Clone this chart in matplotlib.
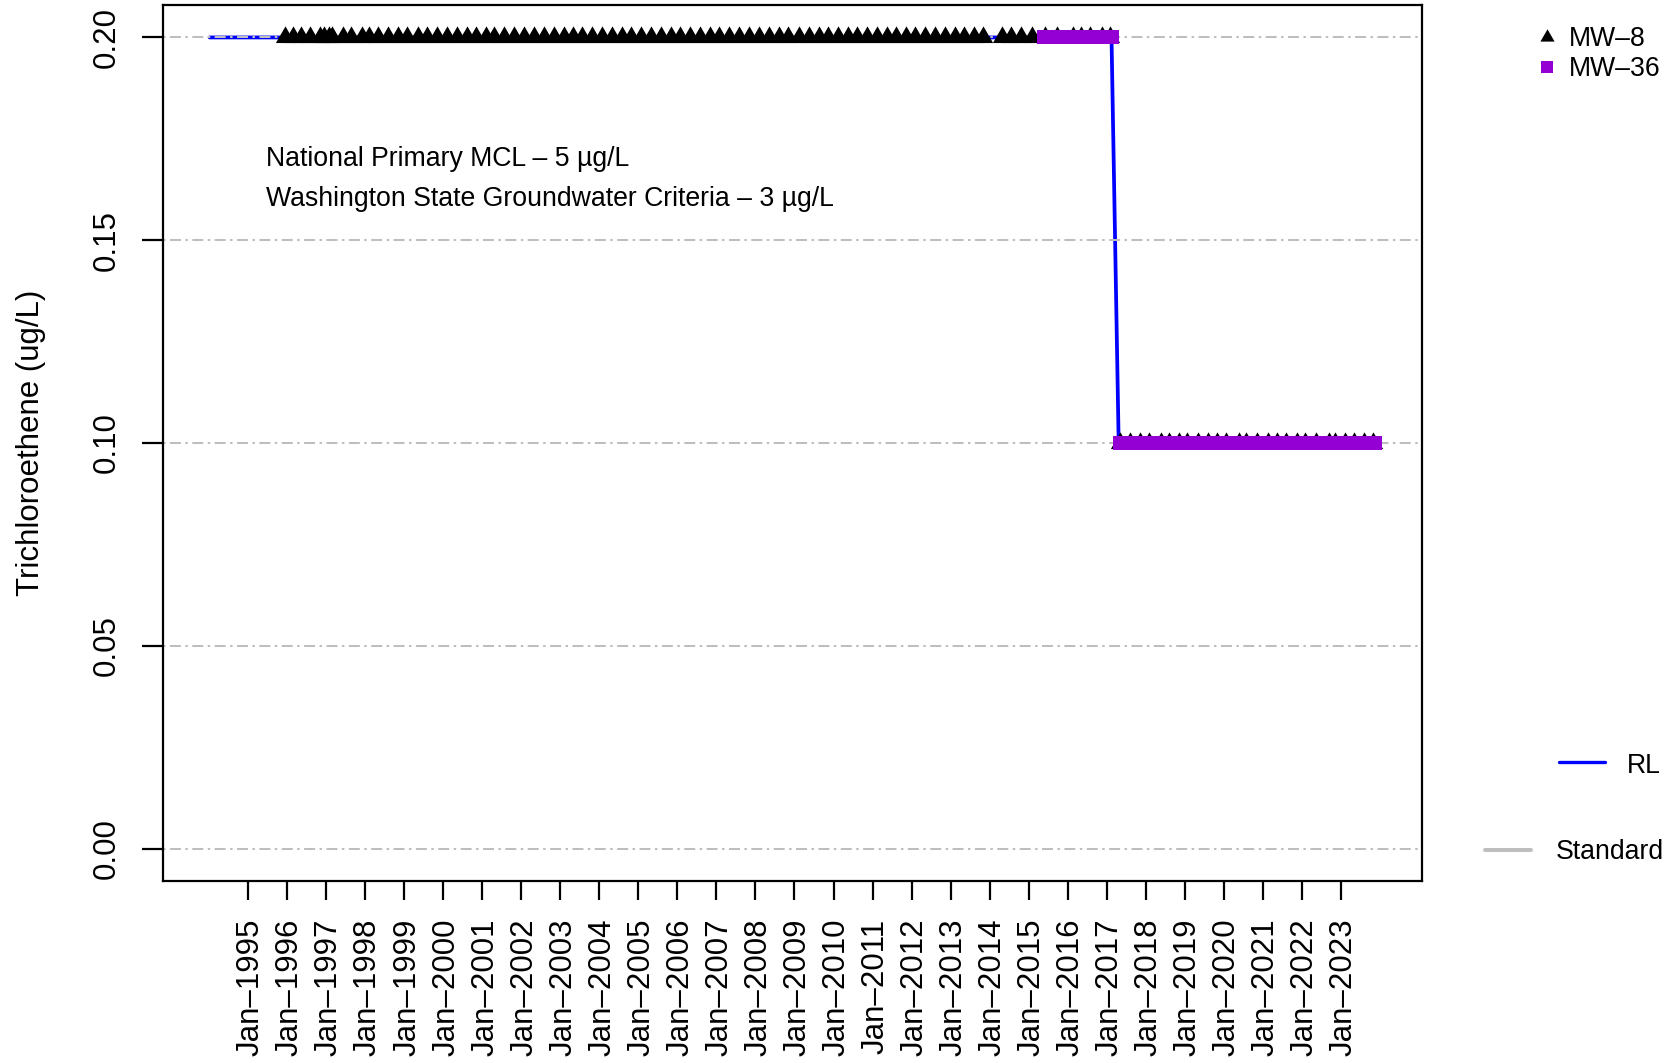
import matplotlib
matplotlib.use("Agg")
import matplotlib.pyplot as plt
import matplotlib.dates as mdates
from matplotlib.path import Path
from matplotlib.lines import Line2D
from matplotlib.transforms import ScaledTranslation
import pandas as pd

plt.rcParams["font.family"] = ["Liberation Sans", "DejaVu Sans"]
plt.rcParams["lines.scale_dashes"] = False

# ---------------------------------------------------------------- data
# MW-8 sample dates (non-detects plotted at the reporting limit)
mw8_dates_rl020 = [
    "1995-12-10",
    "1996-03-01", "1996-05-10", "1996-08-01", "1996-11-10", "1996-12-15",
    "1997-01-25", "1997-03-01", "1997-06-05", "1997-08-20", "1997-12-01",
    "1998-02-10", "1998-05-05", "1998-08-01", "1998-11-01",
    "1999-02-01", "1999-05-08", "1999-08-08", "1999-11-10",
    "2000-02-08", "2000-05-08", "2000-08-10", "2000-11-03",
    "2001-02-03", "2001-04-25", "2001-07-25", "2001-10-28",
    "2002-01-28", "2002-05-01", "2002-08-05", "2002-11-03",
    "2003-02-05", "2003-05-01", "2003-07-28", "2003-10-28",
    "2004-01-30", "2004-04-28", "2004-07-28", "2004-10-28",
    "2005-01-30", "2005-04-25", "2005-07-28", "2005-10-30",
    "2006-01-22", "2006-04-25", "2006-07-30", "2006-10-30",
    "2007-01-30", "2007-05-01", "2007-08-03", "2007-11-05",
    "2008-02-05", "2008-05-08", "2008-08-10", "2008-11-05",
    "2009-02-10", "2009-05-15", "2009-08-15", "2009-11-15",
    "2010-02-15", "2010-05-12", "2010-08-10", "2010-11-10",
    "2011-02-10", "2011-05-15", "2011-08-08", "2011-11-10",
    "2012-02-03", "2012-05-08", "2012-08-08", "2012-11-10",
    "2013-02-10", "2013-05-08", "2013-08-10", "2013-11-03",
    "2014-04-25", "2014-07-20", "2014-10-20",
    "2015-01-30", "2015-06-03", "2015-09-20",
    "2016-02-20", "2016-05-05", "2016-07-25", "2016-11-20",
    "2017-01-30",
]
mw8_dates_rl010 = [
    "2017-05-01", "2017-08-05", "2017-11-10",
    "2018-01-30", "2018-05-20", "2018-08-08", "2018-11-07",
    "2019-01-22", "2019-05-05", "2019-08-10", "2019-10-28",
    "2020-01-22", "2020-05-20", "2020-07-30", "2020-11-10",
    "2021-02-20", "2021-05-15", "2021-08-08", "2021-11-15",
    "2022-01-30", "2022-05-08", "2022-09-10", "2022-11-07",
    "2023-02-10", "2023-05-01", "2023-08-05", "2023-10-30",
]

# MW-36 sample dates
mw36_dates_rl020 = [
    "2015-05-27", "2015-08-20", "2015-11-15",
    "2016-02-15", "2016-05-15", "2016-08-15", "2016-11-15",
    "2017-02-17",
]
mw36_dates_rl010 = [
    "2017-04-30", "2017-08-10", "2017-11-10",
    "2018-02-10", "2018-05-10", "2018-08-10", "2018-11-10",
    "2019-02-10", "2019-05-10", "2019-08-10", "2019-11-10",
    "2020-02-10", "2020-05-10", "2020-08-10", "2020-11-10",
    "2021-02-10", "2021-05-10", "2021-08-10", "2021-11-10",
    "2022-02-10", "2022-05-10", "2022-08-10", "2022-11-10",
    "2023-02-10", "2023-05-10", "2023-08-10", "2023-11-15",
]

mw8_values = [0.20] * len(mw8_dates_rl020) + [0.10] * len(mw8_dates_rl010)
mw36_values = [0.20] * len(mw36_dates_rl020) + [0.10] * len(mw36_dates_rl010)

# Reporting limit trace
rl_dates = ["1994-01-08", "2017-02-14", "2017-04-22", "2023-11-15"]
rl_values = [0.20, 0.20, 0.10, 0.10]

tick_years = list(range(1995, 2024))
tick_labels = [f"Jan\u2013{y}" for y in tick_years]
y_ticks = [0.00, 0.05, 0.10, 0.15, 0.20]

annotations = [
    "National Primary MCL \u2013 5 \u00b5g/L",
    "Washington State Groundwater Criteria \u2013 3 \u00b5g/L",
]

# ---------------------------------------------------------------- styling
BLUE = "#0000FF"
PURPLE = "#9400D3"
GRAY = "#BEBEBE"

W, H, DPI = 1676, 1063, 100


def fx(px):
    return px / W


def fy(py):
    return 1 - py / H


def to_num(dates):
    return mdates.date2num(pd.to_datetime(dates))


# filled triangle with its centroid at the marker origin
tri = Path([(0, 1), (-0.866, -0.5), (0.866, -0.5), (0, 1)],
           [Path.MOVETO, Path.LINETO, Path.LINETO, Path.CLOSEPOLY])

fig = plt.figure(figsize=(W / DPI, H / DPI), dpi=DPI)
ax = fig.add_axes([fx(163), fy(881), fx(1421.6) - fx(163), fy(5) - fy(881)])

mw8_x = to_num(mw8_dates_rl020 + mw8_dates_rl010)
mw36_x = to_num(mw36_dates_rl020 + mw36_dates_rl010)
rl_x = to_num(rl_dates)

ax.plot(rl_x, rl_values, color=BLUE, lw=2.7, solid_capstyle="round",
        solid_joinstyle="round", zorder=2)
for yv in y_ticks:
    ax.axhline(yv, color=GRAY, lw=1.45, linestyle=(0, (1.8, 3.2, 7.9, 3.2)),
               zorder=2.5)
ax.plot(mw8_x, mw8_values, linestyle="none", marker=tri, ms=16, mew=0,
        color="black", zorder=3)
ax.plot(mw36_x, mw36_values, linestyle="none", marker="s", ms=10.4, mew=0,
        color=PURPLE, zorder=4)

# axis limits with 4% padding around the data
all_x = list(mw8_x) + list(mw36_x) + list(rl_x)
xmin, xmax = min(all_x), max(all_x)
pad = 0.04 * (xmax - xmin)
ax.set_xlim(xmin - pad, xmax + pad)
ax.set_ylim(-0.008, 0.208)

ax.set_xticks(to_num([f"{y}-01-01" for y in tick_years]))
ax.set_xticklabels(tick_labels, rotation=90, fontsize=22.5, ha="center", va="top")
ax.tick_params(axis="x", length=13.5, width=1.6, pad=13.5, color="black")
ax.set_yticks(y_ticks)
ax.set_yticklabels([f"{v:.2f}" for v in y_ticks], rotation=90, fontsize=22.5,
                   ha="right", va="center")
ax.tick_params(axis="y", length=15, width=1.6, pad=14.5, color="black")
shift = ScaledTranslation(3 / DPI, 0, fig.dpi_scale_trans)
for lab in ax.get_xticklabels():
    lab.set_transform(lab.get_transform() + shift)

for sp in ax.spines.values():
    sp.set_linewidth(1.6)
    sp.set_color("black")

fig.text(fx(31), fy(443), "Trichloroethene (ug/L)", rotation=90,
         ha="center", va="center", fontsize=22.5)

fig.text(fx(266), fy(166), annotations[0], fontsize=19.2, va="baseline", ha="left")
fig.text(fx(266), fy(206), annotations[1], fontsize=19.2, va="baseline", ha="left")

# ---------------------------------------------------------------- legends
fig.add_artist(Line2D([fx(1546.8)], [fy(36.5)], marker=tri, ms=11.8, mew=0,
                      color="black", linestyle="none", transform=fig.transFigure))
fig.add_artist(Line2D([fx(1546.8)], [fy(66.8)], marker="s", ms=8.4, mew=0,
                      color=PURPLE, linestyle="none", transform=fig.transFigure))
fig.text(fx(1568.7), fy(45.7), "MW\u20138", fontsize=19.2, va="baseline", ha="left")
fig.text(fx(1568.7), fy(76), "MW\u201336", fontsize=19.2, va="baseline", ha="left")

fig.add_artist(Line2D([fx(1559.0), fx(1605.0)], [fy(762.3)] * 2, color=BLUE,
                      lw=2.4, solid_capstyle="round", transform=fig.transFigure))
fig.text(fx(1627.2), fy(772.7), "RL", fontsize=19.2, va="baseline", ha="left")

fig.add_artist(Line2D([fx(1485.3), fx(1530.7)], [fy(850)] * 2, color=GRAY,
                      lw=2.9, solid_capstyle="round", transform=fig.transFigure))
fig.text(fx(1555.4), fy(859), "Standard", fontsize=19.2, va="baseline", ha="left")

fig.savefig("out.png", dpi=DPI)
